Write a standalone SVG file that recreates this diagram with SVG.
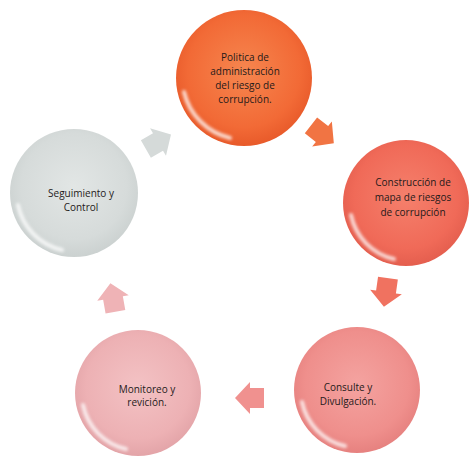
<svg xmlns="http://www.w3.org/2000/svg" width="471" height="464" viewBox="0 0 471 464">
  <defs>
    <radialGradient id="g1" cx="50%" cy="45%" r="55%">
      <stop offset="0" stop-color="#F6864F"/>
      <stop offset="0.75" stop-color="#F26A36"/>
      <stop offset="1" stop-color="#E85A2A"/>
    </radialGradient>
    <radialGradient id="g2" cx="50%" cy="45%" r="55%">
      <stop offset="0" stop-color="#F5806C"/>
      <stop offset="0.75" stop-color="#F06A58"/>
      <stop offset="1" stop-color="#E45E4E"/>
    </radialGradient>
    <radialGradient id="g3" cx="50%" cy="45%" r="55%">
      <stop offset="0" stop-color="#F4A3A0"/>
      <stop offset="0.75" stop-color="#EF8F8C"/>
      <stop offset="1" stop-color="#E6817F"/>
    </radialGradient>
    <radialGradient id="g4" cx="50%" cy="45%" r="55%">
      <stop offset="0" stop-color="#F3C2C4"/>
      <stop offset="0.75" stop-color="#EDB1B4"/>
      <stop offset="1" stop-color="#E3A4A8"/>
    </radialGradient>
    <radialGradient id="g5" cx="50%" cy="45%" r="55%">
      <stop offset="0" stop-color="#E2E6E5"/>
      <stop offset="0.75" stop-color="#D6DBDA"/>
      <stop offset="1" stop-color="#CBD1D0"/>
    </radialGradient>
    <filter id="soft" x="-20%" y="-20%" width="140%" height="140%">
      <feGaussianBlur stdDeviation="1.6"/>
    </filter>
    <!-- chunky block arrow pointing right, centred on the origin -->
    <path id="arr" d="M-14,-10 L0,-10 L0,-16 L15,0 L0,16 L0,10 L-14,10 Z"/>
  </defs>
  <style>
    .lbl { font-family: "Open Sans", "Liberation Sans", sans-serif; font-size: 10px; fill: #1f1a1a; text-anchor: middle; }
    .gloss { fill: none; stroke: #ffffff; stroke-width: 4; stroke-linecap: round; opacity: 0.75; }
  </style>

  <rect width="471" height="464" fill="#ffffff"/>

  <!-- connectors -->
  <g id="connectors">
    <use href="#arr" transform="translate(322,134) rotate(38)" fill="#F17443"/>
    <use href="#arr" transform="translate(386,292) rotate(98)" fill="#F07260"/>
    <use href="#arr" transform="translate(250,398) rotate(180)" fill="#F0918F"/>
    <use href="#arr" transform="translate(113,298) rotate(-100)" fill="#EFB3B6"/>
    <use href="#arr" transform="translate(158,142) rotate(-30)" fill="#D5DAD9"/>
  </g>

  <g id="node1">
    <circle cx="244" cy="78" r="68" fill="url(#g1)"/>
    <path class="gloss" filter="url(#soft)" d="M184,92 A62,62 0 0 0 230,138"/>
    <text class="lbl"><tspan x="245" y="61">Politica de</tspan><tspan x="245" y="75">administración</tspan><tspan x="245" y="89">del riesgo de</tspan><tspan x="245" y="103">corrupción.</tspan></text>
  </g>

  <g id="node2">
    <circle cx="406" cy="203" r="63" fill="url(#g2)"/>
    <path class="gloss" filter="url(#soft)" d="M351,215 A57,57 0 0 0 394,259"/>
    <text class="lbl"><tspan x="413" y="186">Construcción de</tspan><tspan x="413" y="201">mapa de riesgos</tspan><tspan x="413" y="216">de corrupción</tspan></text>
  </g>

  <g id="node3">
    <circle cx="357" cy="390" r="63" fill="url(#g3)"/>
    <path class="gloss" filter="url(#soft)" d="M302,402 A57,57 0 0 0 345,446"/>
    <text class="lbl"><tspan x="348" y="391">Consulte y</tspan><tspan x="348" y="405">Divulgación.</tspan></text>
  </g>

  <g id="node4">
    <circle cx="138" cy="393" r="63" fill="url(#g4)"/>
    <path class="gloss" filter="url(#soft)" d="M83,405 A57,57 0 0 0 126,449"/>
    <text class="lbl"><tspan x="147" y="393">Monitoreo y</tspan><tspan x="147" y="406">revición.</tspan></text>
  </g>

  <g id="node5">
    <circle cx="74" cy="193" r="64" fill="url(#g5)"/>
    <path class="gloss" filter="url(#soft)" d="M18,205 A58,58 0 0 0 62,250"/>
    <text class="lbl"><tspan x="81" y="197">Seguimiento y</tspan><tspan x="81" y="211">Control</tspan></text>
  </g>
</svg>
